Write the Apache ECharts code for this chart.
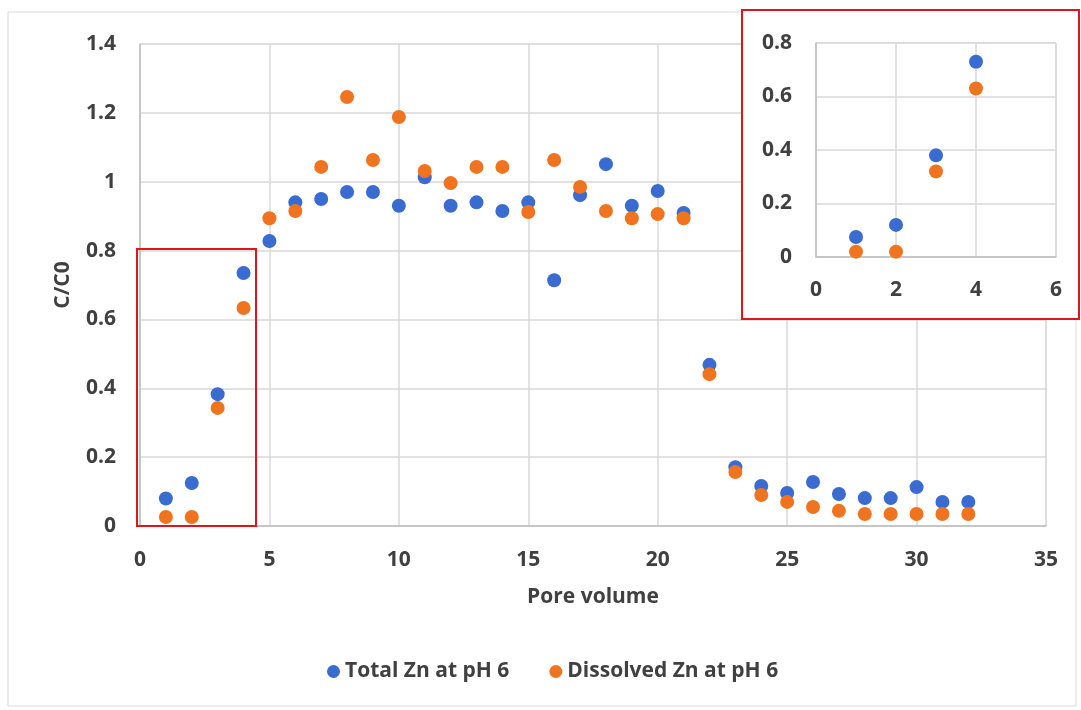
<!DOCTYPE html>
<html>
<head>
<meta charset="utf-8">
<script src="https://cdn.jsdelivr.net/npm/echarts@6/dist/echarts.min.js"></script>
<style>
  html, body { margin: 0; padding: 0; background: #fff; }
  #chart { width: 1081px; height: 710px; }
</style>
</head>
<body>
<div id="chart"></div>
<script>
// pore volume and C/C0 values
var poreVolume = [1, 2, 3, 4, 5, 6, 7, 8, 9, 10, 11, 12, 13, 14, 15, 16,
                  17, 18, 19, 20, 21, 22, 23, 24, 25, 26, 27, 28, 29, 30, 31, 32];
var totalZn = [0.08, 0.125, 0.383, 0.735, 0.828, 0.94, 0.95, 0.97, 0.97, 0.93, 1.013, 0.93,
               0.94, 0.915, 0.94, 0.714, 0.961, 1.051, 0.93, 0.973, 0.909, 0.468, 0.171, 0.116,
               0.096, 0.128, 0.093, 0.081, 0.081, 0.113, 0.07, 0.07];
var dissolvedZn = [0.026, 0.026, 0.343, 0.633, 0.894, 0.915, 1.043, 1.246, 1.063, 1.188, 1.031, 0.996,
                   1.043, 1.043, 0.912, 1.063, 0.985, 0.915, 0.894, 0.906, 0.894, 0.441, 0.157, 0.09,
                   0.07, 0.055, 0.044, 0.035, 0.035, 0.035, 0.035, 0.035];

// zoomed inset (first four pore volumes)
var insetPv = [1, 2, 3, 4];
var insetTotal = [0.075, 0.12, 0.38, 0.73];
var insetDissolved = [0.02, 0.02, 0.32, 0.63];

var seriesNames = ['Total Zn at pH 6', 'Dissolved Zn at pH 6'];
var colors = ['#3a6bd0', '#f07420'];

function pairs(xs, ys) {
    return xs.map(function (x, i) { return [x, ys[i]]; });
}

var chart = echarts.init(document.getElementById('chart'));

var font = '"Open Sans", "DejaVu Sans", sans-serif';
var txt = { color: '#404040', fontSize: 21, fontWeight: 'bold', fontFamily: font };
var gridLine = { lineStyle: { color: '#d9d9d9', width: 1.5 } };
var axisLine = { show: true, lineStyle: { color: '#bfbfbf', width: 1.5 } };
var dot = { opacity: 1 };

var option = {
    animation: false,
    color: colors,
    legend: {
        data: seriesNames,
        top: 656,
        left: 322,
        icon: 'circle',
        itemWidth: 13,
        itemHeight: 13,
        itemGap: 40,
        textStyle: txt
    },
    grid: [
        { left: 140, top: 44, right: 35, bottom: 184, show: true, borderColor: '#d9d9d9', borderWidth: 1 },
        { left: 816, top: 43, width: 240, height: 214, show: true, backgroundColor: '#fff',
          borderColor: '#d9d9d9', borderWidth: 1, z: 2 }
    ],
    xAxis: [
        {
            type: 'value', gridIndex: 0, min: 0, max: 35, interval: 5,
            name: 'Pore volume', nameLocation: 'middle', nameGap: 61,
            nameTextStyle: txt,
            axisLine: axisLine, axisTick: { show: false },
            axisLabel: Object.assign({ margin: 24 }, txt),
            splitLine: gridLine
        },
        {
            type: 'value', gridIndex: 1, min: 0, max: 6, interval: 2, z: 2,
            axisLine: axisLine, axisTick: { show: false },
            axisLabel: Object.assign({ margin: 23 }, txt),
            splitLine: gridLine
        }
    ],
    yAxis: [
        {
            type: 'value', gridIndex: 0, min: 0, max: 1.4, interval: 0.2,
            name: 'C/C0', nameLocation: 'middle', nameGap: 66,
            nameTextStyle: txt,
            axisLine: axisLine, axisTick: { show: false },
            axisLabel: Object.assign({ margin: 24 }, txt),
            splitLine: gridLine
        },
        {
            type: 'value', gridIndex: 1, min: 0, max: 0.8, interval: 0.2, z: 2,
            axisLine: axisLine, axisTick: { show: false },
            axisLabel: Object.assign({ margin: 24 }, txt),
            splitLine: gridLine
        }
    ],
    graphic: [
        // light chart-area border
        { type: 'rect', shape: { x: 8, y: 12, width: 1068, height: 694 },
          style: { fill: 'none', stroke: '#d9d9d9', lineWidth: 1 }, z: 0 },
        // inset background
        { type: 'rect', shape: { x: 742, y: 10, width: 337, height: 309 },
          style: { fill: '#fff', stroke: null }, z: 1 },
        // inset red frame
        { type: 'rect', shape: { x: 742, y: 10, width: 337, height: 309 },
          style: { fill: 'none', stroke: '#e0141c', lineWidth: 2 }, z: 10 },
        // red frame on main plot
        { type: 'rect', shape: { x: 137, y: 249, width: 119, height: 277 },
          style: { fill: 'none', stroke: '#e0141c', lineWidth: 2 }, z: 10 }
    ],
    series: [
        { name: seriesNames[0], type: 'scatter', xAxisIndex: 0, yAxisIndex: 0,
          symbolSize: 14, itemStyle: dot, data: pairs(poreVolume, totalZn) },
        { name: seriesNames[1], type: 'scatter', xAxisIndex: 0, yAxisIndex: 0,
          symbolSize: 14, itemStyle: dot, data: pairs(poreVolume, dissolvedZn) },
        { name: seriesNames[0], type: 'scatter', xAxisIndex: 1, yAxisIndex: 1, z: 3,
          symbolSize: 14, itemStyle: dot, data: pairs(insetPv, insetTotal) },
        { name: seriesNames[1], type: 'scatter', xAxisIndex: 1, yAxisIndex: 1, z: 3,
          symbolSize: 14, itemStyle: dot, data: pairs(insetPv, insetDissolved) }
    ]
};

chart.setOption(option);
</script>
</body>
</html>
